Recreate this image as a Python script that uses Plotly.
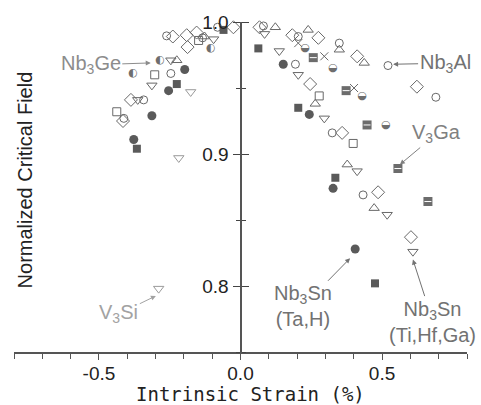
import plotly.graph_objects as go

# Normalized critical field vs intrinsic strain for several A15 superconductors

# Nb3Sn (Ti,Hf,Ga) — open symbols
circ_x = [-0.261, -0.134, -0.081, -0.246, -0.342, -0.412, 0.081, 0.204, 0.349, 0.521, 0.194, 0.690, 0.324, 0.433]
circ_y = [0.9895, 0.988, 0.996, 0.961, 0.941, 0.927, 0.997, 0.989, 0.984, 0.967, 0.968, 0.943, 0.916, 0.869]

diam_x = [-0.239, -0.190, -0.155, -0.187, -0.025, -0.387, -0.415, 0.067, 0.183, 0.275, 0.412, 0.246, 0.623, 0.359, 0.486, 0.602]
diam_y = [0.989, 0.990, 0.992, 0.981, 0.996, 0.941, 0.925, 0.996, 0.990, 0.988, 0.974, 0.953, 0.951, 0.916, 0.871, 0.837]

sq_x = [-0.148, -0.303, -0.437, 0.278, 0.398]
sq_y = [0.986, 0.960, 0.932, 0.944, 0.908]

tup_x = [-0.127, -0.225, 0.123, 0.239, 0.349, 0.437, 0.264, 0.377, 0.472]
tup_y = [0.989, 0.971, 0.996, 0.994, 0.979, 0.969, 0.938, 0.892, 0.859]

tdn_x = [-0.095, -0.246, -0.313, -0.363, 0.085, 0.137, 0.204, 0.296, 0.412, 0.518, 0.609]
tdn_y = [0.987, 0.971, 0.952, 0.941, 0.991, 0.978, 0.960, 0.927, 0.887, 0.854, 0.826]

# Nb3Sn (Ta,H) — filled symbols
fcirc_x = [-0.197, -0.254, -0.313, -0.377, 0.151, 0.243, 0.327, 0.405]
fcirc_y = [0.964, 0.948, 0.929, 0.911, 0.968, 0.930, 0.874, 0.828]

fsq_x = [-0.060, -0.225, -0.366, 0.063, 0.204, 0.335, 0.475]
fsq_y = [0.994, 0.953, 0.904, 0.980, 0.935, 0.882, 0.802]

# V3Si
v3si_x = [-0.176, -0.218, -0.289]
v3si_y = [0.947, 0.897, 0.798]

# Nb3Ge
nb3ge_x = [-0.106, -0.285, -0.380]
nb3ge_y = [0.980, 0.971, 0.961]

# Nb3Al
nb3al_x = [0.229, 0.327, 0.430, 0.514]
nb3al_y = [0.980, 0.965, 0.944, 0.922]

cross_x = [0.204, 0.296, 0.401]
cross_y = [0.984, 0.974, 0.950]

# V3Ga
v3ga_x = [0.257, 0.373, 0.447, 0.556, 0.662]
v3ga_y = [0.973, 0.948, 0.922, 0.889, 0.864]

x_ticks = [-0.5, 0.0, 0.5]
x_ticktext = ["-0.5", "0.0", "0.5"]
y_ticks = [0.8, 0.9, 1.0]
y_ticktext = ["0.8", "0.9", "1.0"]

OPEN = "#686868"
DARK = "#5a5a5a"
LIGHT = "#9a9a9a"
AXIS = "#555555"
SANS = "Liberation Sans, Arial, sans-serif"

fig = go.Figure()


def open_trace(x, y, symbol, size, color=OPEN):
    fig.add_trace(go.Scatter(
        x=x, y=y, mode="markers", cliponaxis=False, showlegend=False,
        marker=dict(symbol=symbol, size=size, color=color,
                    line=dict(color=color, width=1)),
    ))


open_trace(circ_x, circ_y, "circle-open", 8)
open_trace(diam_x, diam_y, "diamond-open", 10)
open_trace(sq_x, sq_y, "square-open", 8)
open_trace(tup_x, tup_y, "triangle-up-open", 9)
open_trace(tdn_x, tdn_y, "triangle-down-open", 9)
open_trace(v3si_x, v3si_y, "triangle-down-open", 9, LIGHT)
open_trace(cross_x, cross_y, "x-thin-open", 8)

fig.add_trace(go.Scatter(
    x=fcirc_x, y=fcirc_y, mode="markers", cliponaxis=False, showlegend=False,
    marker=dict(symbol="circle", size=9, color=DARK, line=dict(width=0)),
))
fig.add_trace(go.Scatter(
    x=fsq_x, y=fsq_y, mode="markers", cliponaxis=False, showlegend=False,
    marker=dict(symbol="square", size=8, color=DARK, line=dict(width=0)),
))

# V3Ga: filled square crossed by a thin light bar
fig.add_trace(go.Scatter(
    x=v3ga_x, y=v3ga_y, mode="markers", cliponaxis=False, showlegend=False,
    marker=dict(symbol="square", size=9, color="#6c6c6c", line=dict(width=0)),
))
fig.add_trace(go.Scatter(
    x=v3ga_x, y=v3ga_y, mode="markers", cliponaxis=False, showlegend=False,
    marker=dict(symbol="line-ew", size=5, line=dict(color="white", width=1)),
))

# half-filled circles (Nb3Ge drawn on the mirrored y axis, same range)
fig.add_trace(go.Scatter(
    x=nb3ge_x, y=nb3ge_y, mode="text", text=["\u25d0"] * len(nb3ge_x),
    cliponaxis=False, showlegend=False, yaxis="y2",
    textfont=dict(family="DejaVu Sans", size=11, color="#6e6e6e"),
))
fig.add_trace(go.Scatter(
    x=nb3al_x, y=nb3al_y, mode="text", text=["\u25d2"] * len(nb3al_x),
    cliponaxis=False, showlegend=False,
    textfont=dict(family="DejaVu Sans", size=11, color="#6e6e6e"),
))

label_font = dict(family=SANS, size=20)


def label(text, x, y, ax, ay, color):
    fig.add_annotation(
        x=x, y=y, ax=ax, ay=ay, text=text, showarrow=True,
        arrowhead=2, arrowsize=1, arrowwidth=1, arrowcolor=color,
        font=dict(label_font, color=color), align="center",
    )


label("Nb<sub>3</sub>Ge", -0.317, 0.969, -60, 2, "#8c8c8c")
label("Nb<sub>3</sub>Al", 0.539, 0.968, 52, -1, "#727272")
label("V<sub>3</sub>Ga", 0.563, 0.892, 37, -31, "#808080")
label("V<sub>3</sub>Si", -0.299, 0.7925, -37, 18, "#a2a2a2")
label("Nb<sub>3</sub>Sn<br>(Ta,H)", 0.387, 0.821, -47, 48, "#727272")
label("Nb<sub>3</sub>Sn<br>(Ti,Hf,Ga)", 0.609, 0.820, 20, 62, "#727272")

fig.add_annotation(
    text="Normalized Critical Field", xref="paper", yref="paper",
    x=0.0243, y=0.52, textangle=-90, showarrow=False,
    xanchor="center", yanchor="middle",
    font=dict(family=SANS, size=20, color="#222222"),
)
fig.add_annotation(
    text="Intrinsic Strain (%)", xref="paper", yref="paper",
    x=0.523, y=-0.126, showarrow=False, xanchor="center", yanchor="middle",
    font=dict(family="DejaVu Sans Mono", size=19, color="#222222"),
)

fig.update_layout(
    width=481, height=405,
    margin=dict(l=14, r=14, t=19, b=53),
    paper_bgcolor="white", plot_bgcolor="white",
    xaxis=dict(
        range=[-0.8, 0.8], domain=[0, 1], showgrid=False, zeroline=False,
        showline=True, linecolor=AXIS, linewidth=1.5,
        ticks="outside", ticklen=6, tickwidth=1.2, tickcolor=AXIS,
        tickvals=x_ticks, ticktext=x_ticktext, ticklabelstandoff=-3,
        tickfont=dict(family=SANS, size=19, color="#222222"),
        minor=dict(dtick=0.1, tick0=0, ticks="outside", ticklen=5,
                   tickwidth=1.2, tickcolor=AXIS),
    ),
    yaxis=dict(
        range=[0.75, 1.0], anchor="free", position=0.5, showgrid=False,
        zeroline=False, showline=True, linecolor=AXIS, linewidth=2,
        ticks="outside", ticklen=7, tickwidth=1.2, tickcolor="#444444",
        tickvals=y_ticks, ticktext=y_ticktext,
        tickfont=dict(family=SANS, size=19, color="#222222"),
        minor=dict(dtick=0.05, tick0=0.75, ticks="outside", ticklen=4,
                   tickwidth=1.2, tickcolor="#444444"),
    ),
    yaxis2=dict(
        range=[0.75, 1.0], overlaying="y", anchor="free", position=0.5,
        side="right", showgrid=False, zeroline=False, showline=False,
        ticks="outside", ticklen=7, tickwidth=1.2, tickcolor="#444444",
        tickvals=y_ticks, showticklabels=False,
        minor=dict(dtick=0.05, tick0=0.75, ticks="outside", ticklen=4,
                   tickwidth=1.2, tickcolor="#444444"),
    ),
)

fig.write_html("out.html")
